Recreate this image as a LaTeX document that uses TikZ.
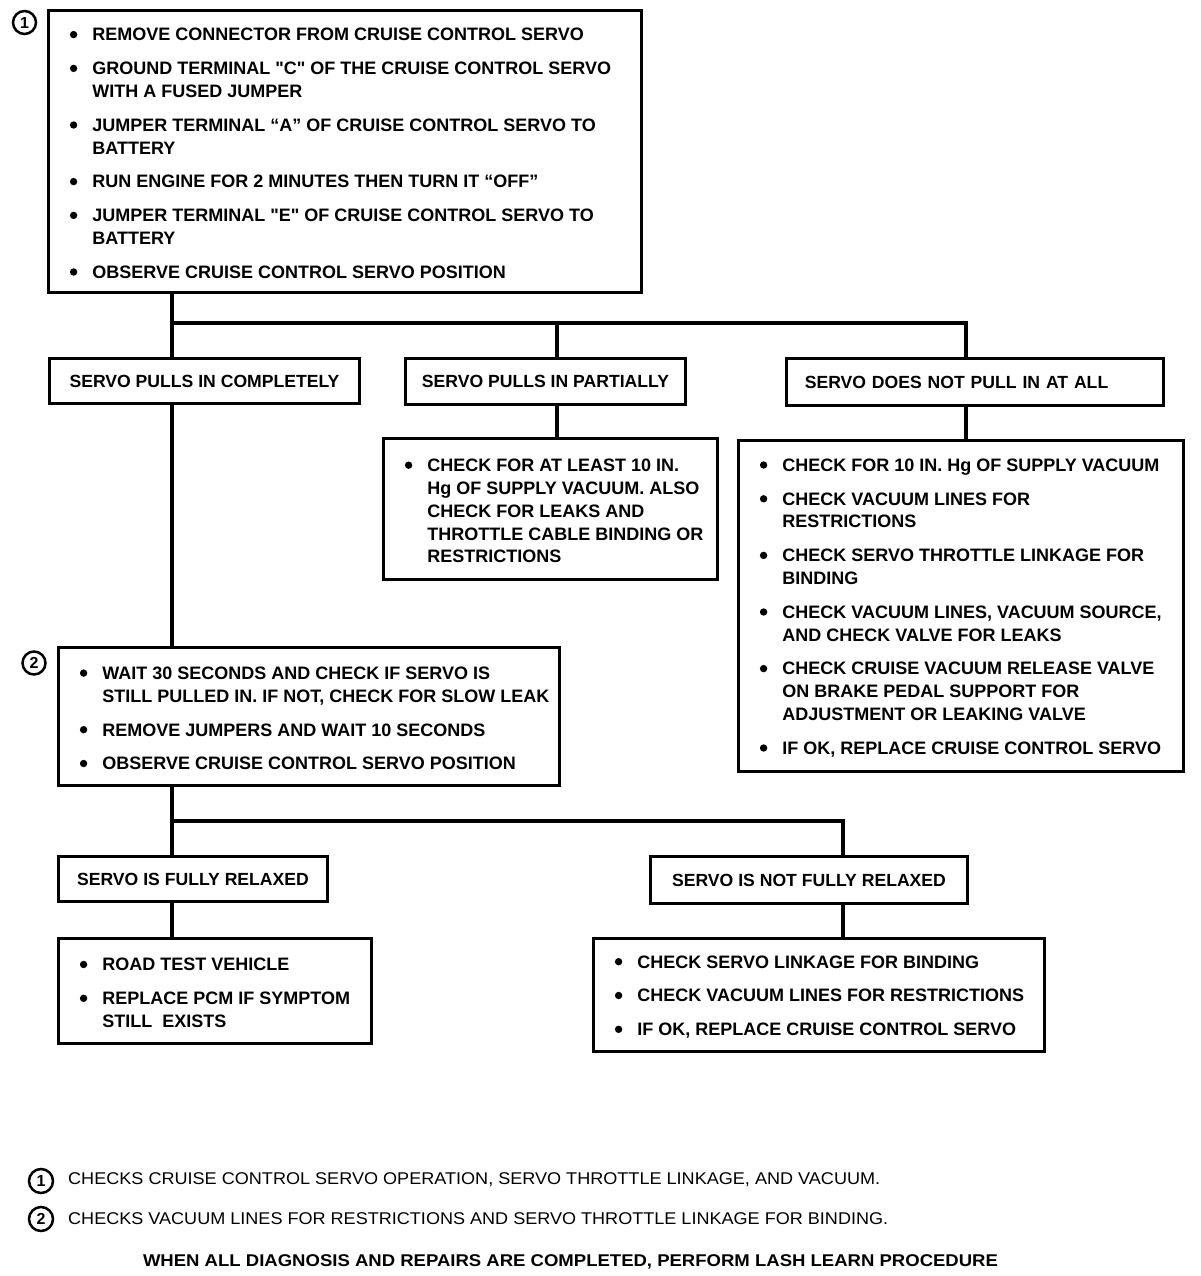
\documentclass[tikz,border=0pt]{standalone}
\usepackage{fontspec}
\setmainfont{Liberation Sans}
\newsavebox\fitbox
\newcommand\fitto[2]{\sbox\fitbox{#2}\pgfmathsetmacro\fitsc{#1/\the\wd\fitbox}\scalebox{\fitsc}[1]{\usebox\fitbox}}
\newcommand\bdot{\tikz[baseline=0pt]\fill (3.7pt,6.4pt) circle[radius=3.7pt];}
\newcommand\bitem[1]{\makebox[22.5pt][l]{\bdot}#1}
\newcommand\bcont[1]{\hspace*{22.5pt}#1}
\newcommand\sq{\textquotedbl}
\begin{document}
\begin{tikzpicture}[x=1pt,y=-1pt,
  box/.style={draw, line width=2.6pt, rectangle, inner sep=0pt},
  conn/.style={line width=3.8pt},
  lbl/.style={font=\bfseries\fontsize{17.6}{22.8}\selectfont},
  txt/.style={font=\bfseries\fontsize{18}{22.8}\selectfont, inner sep=0pt, align=left, anchor=west, yshift=-2pt},
  num/.style={circle, draw, line width=2.5pt, minimum size=23pt, inner sep=0pt, font=\bfseries\fontsize{16}{16}\selectfont},
  foot/.style={font=\fontsize{17}{17}\selectfont, inner sep=0pt, anchor=west}]
\useasboundingbox (0,0) rectangle (1200,1276);

% ---- step 1 box
\node[box, minimum width=593pt, minimum height=282pt] (s1) at (345,151.5) {};
\node[txt] (t1) at ([xshift=22.5pt]s1.west) {%
\bitem{REMOVE CONNECTOR FROM CRUISE CONTROL SERVO}\\[11pt]
\bitem{GROUND TERMINAL \sq C\sq{} OF THE CRUISE CONTROL SERVO}\\
\bcont{WITH A FUSED JUMPER}\\[11pt]
\bitem{JUMPER TERMINAL ``A'' OF CRUISE CONTROL SERVO TO}\\
\bcont{BATTERY}\\[11pt]
\bitem{RUN ENGINE FOR 2 MINUTES THEN TURN IT ``OFF''}\\[11pt]
\bitem{JUMPER TERMINAL \sq E\sq{} OF CRUISE CONTROL SERVO TO}\\
\bcont{BATTERY}\\[11pt]
\bitem{OBSERVE CRUISE CONTROL SERVO POSITION}};
\node[num] (c1) at (24.5,22.5) {1};

% ---- result boxes
\node[box, lbl, minimum width=310pt, minimum height=45pt] (pa) at (204.5,381) {SERVO PULLS IN COMPLETELY};
\node[box, lbl, minimum width=280pt, minimum height=46pt] (pb) at (545.5,381.5) {SERVO PULLS IN PARTIALLY};
\node[box, lbl, minimum height=47pt, inner xsep=18.3pt, text width=340.4pt, align=left] (pc) at (975,382) {SERVO DOES NOT PULL IN AT ALL};

% ---- partial box
\node[box, minimum width=334pt, minimum height=141pt] (pb2) at (550.5,509) {};
\node[txt] (tb2) at ([xshift=22.5pt]pb2.west) {%
\bitem{CHECK FOR AT LEAST 10 IN.}\\
\bcont{Hg OF SUPPLY VACUUM. ALSO}\\
\bcont{CHECK FOR LEAKS AND}\\
\bcont{THROTTLE CABLE BINDING OR}\\
\bcont{RESTRICTIONS}};

% ---- not at all box
\node[box, minimum width=445pt, minimum height=331pt] (pc2) at (961,606) {};
\node[txt] (tc2) at ([xshift=22.5pt]pc2.west) {%
\bitem{CHECK FOR 10 IN. Hg OF SUPPLY VACUUM}\\[11pt]
\bitem{CHECK VACUUM LINES FOR}\\
\bcont{RESTRICTIONS}\\[11pt]
\bitem{CHECK SERVO THROTTLE LINKAGE FOR}\\
\bcont{BINDING}\\[11pt]
\bitem{CHECK VACUUM LINES, VACUUM SOURCE,}\\
\bcont{AND CHECK VALVE FOR LEAKS}\\[11pt]
\bitem{CHECK CRUISE VACUUM RELEASE VALVE}\\
\bcont{ON BRAKE PEDAL SUPPORT FOR}\\
\bcont{ADJUSTMENT OR LEAKING VALVE}\\[11pt]
\bitem{IF OK, REPLACE CRUISE CONTROL SERVO}};

% ---- step 2 box
\node[box, minimum width=501pt, minimum height=138pt] (s2) at (309,716.5) {};
\node[txt] (t2) at ([xshift=22.5pt]s2.west) {%
\bitem{WAIT 30 SECONDS AND CHECK IF SERVO IS}\\
\bcont{STILL PULLED IN. IF NOT, CHECK FOR SLOW LEAK}\\[11pt]
\bitem{REMOVE JUMPERS AND WAIT 10 SECONDS}\\[11pt]
\bitem{OBSERVE CRUISE CONTROL SERVO POSITION}};
\node[num] (c2) at (34,663) {2};

% ---- relaxed boxes
\node[box, lbl, minimum width=269pt, minimum height=45pt] (rd) at (193,879) {SERVO IS FULLY RELAXED};
\node[box, lbl, minimum width=317pt, minimum height=47pt] (re) at (809,880) {SERVO IS NOT FULLY RELAXED};

\node[box, minimum width=313pt, minimum height=105pt] (rd2) at (215,991) {};
\node[txt] (td2) at ([xshift=22.5pt]rd2.west) {%
\bitem{ROAD TEST VEHICLE}\\[11pt]
\bitem{REPLACE PCM IF SYMPTOM}\\
\bcont{STILL\ \ EXISTS}};

\node[box, minimum width=451pt, minimum height=113pt] (re2) at (819,995) {};
\node[txt] (te2) at ([xshift=22.5pt]re2.west) {%
\bitem{CHECK SERVO LINKAGE FOR BINDING}\\[11pt]
\bitem{CHECK VACUUM LINES FOR RESTRICTIONS}\\[11pt]
\bitem{IF OK, REPLACE CRUISE CONTROL SERVO}};

% ---- connectors
\coordinate (j1) at (172,323);
\coordinate (j1b) at (557,323);
\coordinate (j1c) at (966,323);
\draw[conn] (s1.south -| j1) -- (pa.north -| j1);
\draw[conn] (j1) -- (j1c) -- (j1c |- pc.north);
\draw[conn] (j1b) -- (j1b |- pb.north);
\draw[conn] (pb.south -| j1b) -- (pb2.north -| j1b);
\draw[conn] (pc.south -| j1c) -- (pc2.north -| j1c);
\draw[conn] (pa.south -| j1) -- (s2.north -| j1);
\coordinate (j2) at (172,821);
\coordinate (j2e) at (843,821);
\draw[conn] (s2.south -| j2) -- (rd.north -| j2);
\draw[conn] (j2) -- (j2e) -- (j2e |- re.north);
\draw[conn] (rd.south -| j2) -- (rd2.north -| j2);
\draw[conn] (re.south -| j2e) -- (re2.north -| j2e);

% ---- footer
\node[num, minimum size=24pt] (f1n) at (41,1181) {1};
\node[foot] (f1) at (68,1180) {\fitto{812}{CHECKS CRUISE CONTROL SERVO OPERATION, SERVO THROTTLE LINKAGE, AND VACUUM.}};
\node[num, minimum size=24pt] (f2n) at (41,1219) {2};
\node[foot] (f2) at (68,1219) {\fitto{820}{CHECKS VACUUM LINES FOR RESTRICTIONS AND SERVO THROTTLE LINKAGE FOR BINDING.}};
\node[foot, anchor=center, font=\bfseries\fontsize{17}{17}\selectfont] (f3) at (570.5,1262) {\fitto{855}{WHEN ALL DIAGNOSIS AND REPAIRS ARE COMPLETED, PERFORM LASH LEARN PROCEDURE}};
\end{tikzpicture}
\end{document}
